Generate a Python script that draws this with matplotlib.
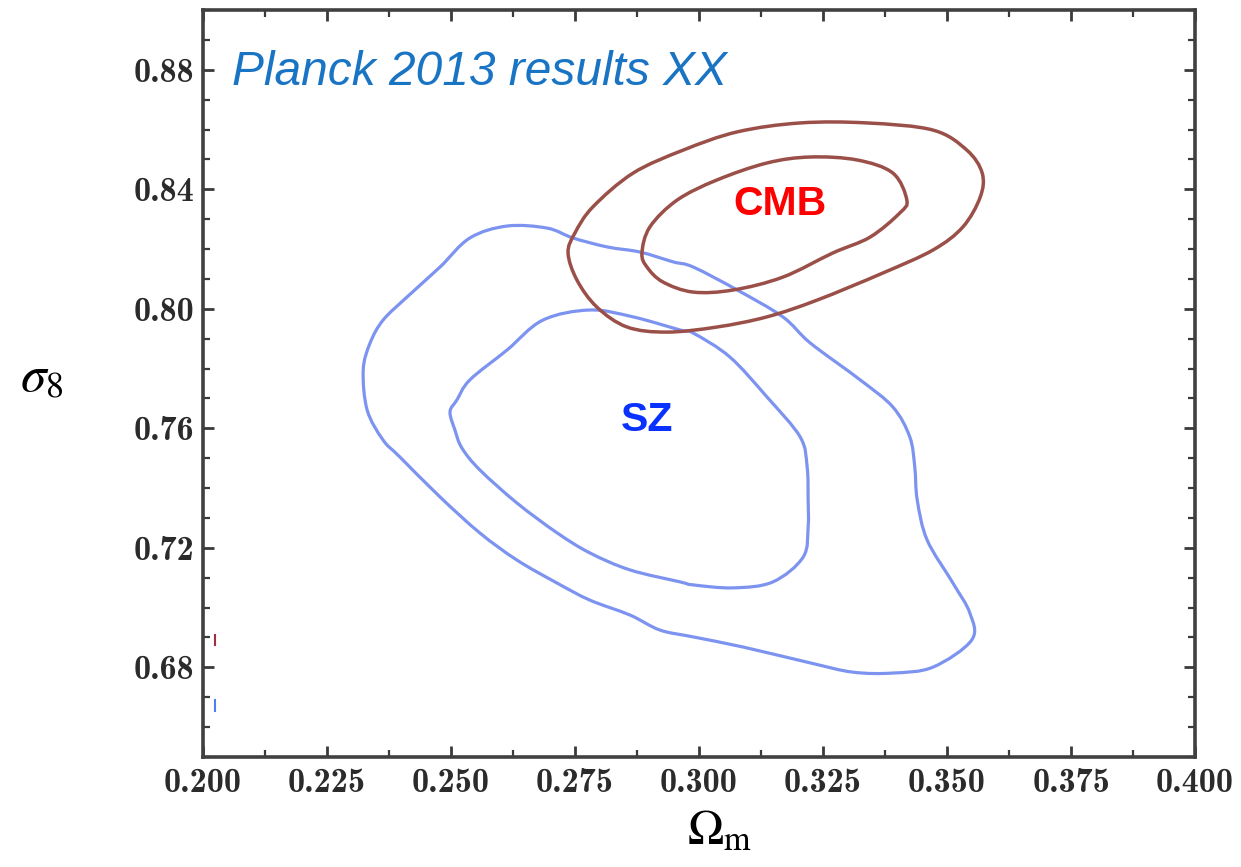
import matplotlib
matplotlib.use("Agg")
import matplotlib.pyplot as plt
from matplotlib.path import Path
from matplotlib.patches import PathPatch
from matplotlib.ticker import MultipleLocator, FormatStrFormatter

# Confidence contours in the (Omega_m, sigma_8) plane
cmb_outer_om = [0.2736, 0.2750, 0.2786, 0.2867, 0.2968, 0.3077, 0.3204, 0.3339, 0.3472, 0.3540,
                0.3571, 0.3567, 0.3532, 0.3472, 0.3371, 0.3238, 0.3137, 0.3036, 0.2935, 0.2855,
                0.2794, 0.2754]
cmb_outer_s8 = [0.8187, 0.8254, 0.8341, 0.8454, 0.8531, 0.8592, 0.8622, 0.8622, 0.8598, 0.8531,
                0.8454, 0.8374, 0.8274, 0.8197, 0.8120, 0.8029, 0.7973, 0.7939, 0.7922, 0.7939,
                0.8006, 0.8096]

cmb_inner_om = [0.2885, 0.2901, 0.2956, 0.3036, 0.3137, 0.3224, 0.3319, 0.3391, 0.3419, 0.3405,
                0.3345, 0.3270, 0.3169, 0.3069, 0.2988, 0.2927, 0.2895]
cmb_inner_s8 = [0.8187, 0.8274, 0.8364, 0.8431, 0.8488, 0.8508, 0.8498, 0.8454, 0.8364, 0.8321,
                0.8240, 0.8187, 0.8106, 0.8063, 0.8056, 0.8090, 0.8140]

sz_outer_om = [0.2323, 0.2337, 0.2363, 0.2411, 0.2478, 0.2538, 0.2613, 0.2694, 0.2746, 0.2815,
               0.2881, 0.2948, 0.2988, 0.3077, 0.3169, 0.3224, 0.3325, 0.3391, 0.3425, 0.3435,
               0.3440, 0.3460, 0.3512, 0.3546, 0.3550, 0.3472, 0.3391, 0.3310, 0.3224, 0.3089,
               0.2988, 0.2921, 0.2861, 0.2780, 0.2714, 0.2633, 0.2558, 0.2478, 0.2397, 0.2363,
               0.2331]
sz_outer_s8 = [0.7795, 0.7886, 0.7962, 0.8039, 0.8140, 0.8237, 0.8277, 0.8270, 0.8237, 0.8207,
               0.8190, 0.8157, 0.8140, 0.8063, 0.7973, 0.7886, 0.7762, 0.7671, 0.7571, 0.7471,
               0.7360, 0.7226, 0.7082, 0.6982, 0.6892, 0.6801, 0.6781, 0.6784, 0.6815, 0.6868,
               0.6902, 0.6925, 0.6975, 0.7025, 0.7082, 0.7159, 0.7250, 0.7370, 0.7504, 0.7561,
               0.7661]

sz_inner_om = [0.2512, 0.2538, 0.2613, 0.2685, 0.2780, 0.2867, 0.2962, 0.2988, 0.3062, 0.3137,
               0.3204, 0.3218, 0.3220, 0.3220, 0.3210, 0.3149, 0.3069, 0.2988, 0.2962, 0.2861,
               0.2780, 0.2714, 0.2633, 0.2558, 0.2522, 0.2508, 0.2498]
sz_inner_s8 = [0.7695, 0.7762, 0.7862, 0.7962, 0.7996, 0.7973, 0.7929, 0.7919, 0.7839, 0.7705,
               0.7571, 0.7471, 0.7360, 0.7270, 0.7169, 0.7086, 0.7066, 0.7076, 0.7086, 0.7126,
               0.7183, 0.7250, 0.7350, 0.7461, 0.7534, 0.7594, 0.7655]

xlim = (0.200, 0.400)
ylim = (0.65, 0.90)
xticks = [0.200, 0.225, 0.250, 0.275, 0.300, 0.325, 0.350, 0.375, 0.400]
yticks = [0.68, 0.72, 0.76, 0.80, 0.84, 0.88]

CMB_COLOR = "#9a5048"
SZ_COLOR = "#7d93f0"


def smooth_closed_path(xs, ys, tension=0.5):
    """Closed curve through the given vertices, drawn as cubic Bezier segments."""
    n = len(xs)
    verts = [(xs[0], ys[0])]
    codes = [Path.MOVETO]
    k = tension / 3.0
    for i in range(n):
        p0 = (xs[i - 1], ys[i - 1])
        p1 = (xs[i], ys[i])
        p2 = (xs[(i + 1) % n], ys[(i + 1) % n])
        p3 = (xs[(i + 2) % n], ys[(i + 2) % n])
        c1 = (p1[0] + (p2[0] - p0[0]) * k, p1[1] + (p2[1] - p0[1]) * k)
        c2 = (p2[0] - (p3[0] - p1[0]) * k, p2[1] - (p3[1] - p1[1]) * k)
        verts += [c1, c2, p2]
        codes += [Path.CURVE4] * 3
    return Path(verts, codes)


fig = plt.figure(figsize=(12.41, 8.67), dpi=100)
ax = fig.add_axes([203 / 1241, 110 / 867, 992 / 1241, 747 / 867])

for xs, ys in [(sz_outer_om, sz_outer_s8), (sz_inner_om, sz_inner_s8)]:
    ax.add_patch(PathPatch(smooth_closed_path(xs, ys), facecolor="none",
                           edgecolor=SZ_COLOR, lw=2.3, joinstyle="round"))
for xs, ys in [(cmb_outer_om, cmb_outer_s8), (cmb_inner_om, cmb_inner_s8)]:
    ax.add_patch(PathPatch(smooth_closed_path(xs, ys), facecolor="none",
                           edgecolor=CMB_COLOR, lw=2.5, joinstyle="round"))

ax.set_xlim(*xlim)
ax.set_ylim(*ylim)
ax.set_xticks(xticks)
ax.set_yticks(yticks)
ax.xaxis.set_minor_locator(MultipleLocator(0.0125))
ax.yaxis.set_minor_locator(MultipleLocator(0.01))
ax.xaxis.set_major_formatter(FormatStrFormatter("%.3f"))
ax.yaxis.set_major_formatter(FormatStrFormatter("%.2f"))

ax.tick_params(which="both", direction="in", top=True, right=True, color="#3a3a3a")
ax.tick_params(which="major", length=8, width=2.0)
ax.tick_params(which="minor", length=5, width=1.6)
ax.tick_params(axis="y", which="major", pad=6)
ax.tick_params(axis="x", which="major", pad=8)
for lab in ax.get_xticklabels() + ax.get_yticklabels():
    lab.set_fontfamily("cmb10")
    lab.set_fontsize(24.5)
    lab.set_color("#2b2b2b")
for sp in ax.spines.values():
    sp.set_linewidth(2.6)
    sp.set_color("#404040")

# small legend swatch remnants at the left edge
ax.plot([0.012, 0.012], [0.150, 0.163], transform=ax.transAxes, color="#a03040", lw=1.5)
ax.plot([0.012, 0.012], [0.062, 0.076], transform=ax.transAxes, color="#4a80f0", lw=1.5)

ax.text(0.3163, 0.8351, "CMB", color="#ff0000", fontsize=29.5, fontweight="bold",
        family="Liberation Sans", ha="center", va="center")
ax.text(0.2895, 0.7628, "SZ", color="#0a32ff", fontsize=29.5, fontweight="bold",
        family="Liberation Sans", ha="center", va="center")

plt.rcParams["mathtext.fontset"] = "stix"
fig.text(232 / 1241, 1 - 85 / 867, "Planck 2013 results XX", color="#1a74c4",
         fontsize=34.5, style="italic", family="Liberation Sans", ha="left", va="baseline")
fig.text(42 / 1241, 1 - 378 / 867, r"$\sigma_8$", fontsize=37, ha="center", va="center")
fig.text(720 / 1241, 1 - 830 / 867, r"$\Omega_{\mathrm{m}}$", fontsize=35, ha="center", va="center")

fig.savefig("out.png", dpi=100)
